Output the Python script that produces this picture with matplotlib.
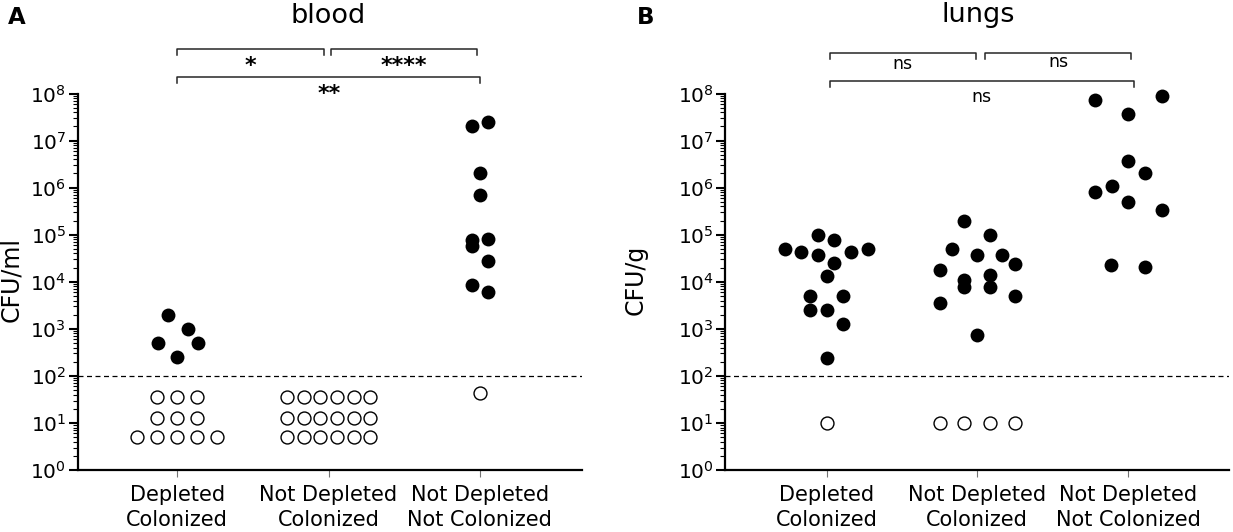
import numpy as np
import matplotlib.pyplot as plt
from matplotlib.ticker import LogLocator, NullFormatter

plt.rcParams['font.family'] = ['DejaVu Sans']

categories = ['Depleted\nColonized', 'Not Depleted\nColonized', 'Not Depleted\nNot Colonized']
limit = 100

# blood, CFU/ml : detected (filled) and under the limit (open)
blood_pos = [
    [2000, 1000, 500, 500, 250],
    [],
    [2.0e7, 2.5e7, 2.0e6, 6.9e5, 7.8e4, 5.8e4, 8.1e4, 2.8e4, 8.5e3, 6.0e3],
]
blood_pos_dx = [
    [-0.063, 0.071, -0.129, 0.135, 0.0],
    [],
    [-0.053, 0.056, 0.0, 0.0, -0.053, -0.053, 0.056, 0.056, -0.053, 0.056],
]
blood_neg = [
    [35, 35, 35, 13, 13, 13, 5, 5, 5, 5, 5],
    [35, 35, 35, 35, 35, 35, 13, 13, 13, 13, 13, 13, 5, 5, 5, 5, 5, 5],
    [44],
]
blood_neg_dx = [
    [-0.132, 0.0, 0.132, -0.132, 0.0, 0.132, -0.264, -0.132, 0.0, 0.132, 0.264],
    [-0.274, -0.165, -0.054, 0.056, 0.165, 0.274,
     -0.274, -0.165, -0.054, 0.056, 0.165, 0.274,
     -0.274, -0.165, -0.054, 0.056, 0.165, 0.274],
    [0.0],
]
blood_pairs = [(1, 2), (2, 3), (1, 3)]
blood_sig = ['*', '****', '**']

# lungs, CFU/g
lungs_pos = [
    [5.0e4, 4.3e4, 1.0e5, 3.7e4, 7.7e4, 2.5e4, 4.3e4, 4.9e4, 1.3e4, 5.0e3, 5.0e3, 2.5e3, 2.5e3, 1.25e3, 245],
    [2.0e5, 1.0e5, 5.0e4, 3.7e4, 3.7e4, 2.4e4, 1.8e4, 1.4e4, 1.07e4, 7.6e3, 7.6e3, 5.0e3, 3.6e3, 740],
    [7.2e7, 8.7e7, 3.7e7, 3.6e6, 2.0e6, 1.07e6, 7.9e5, 4.9e5, 3.3e5, 2.3e4, 2.1e4],
]
lungs_pos_dx = [
    [-0.274, -0.168, -0.054, -0.054, 0.052, 0.052, 0.165, 0.274, 0.0, -0.111, 0.108, -0.111, 0.0, 0.108, 0.0],
    [-0.085, 0.083, -0.17, 0.0, 0.165, 0.248, -0.25, 0.083, -0.085, -0.085, 0.083, 0.248, -0.25, 0.0],
    [-0.22, 0.225, 0.0, 0.0, 0.115, -0.106, -0.22, 0.0, 0.225, -0.111, 0.111],
]
lungs_neg = [[10], [10, 10, 10, 10], []]
lungs_neg_dx = [[0.0], [-0.25, -0.085, 0.083, 0.248], []]
lungs_pairs = [(1, 2), (2, 3), (1, 3)]
lungs_sig = ['ns', 'ns', 'ns']


def style(ax, xlim):
    ax.set_yscale('log')
    ax.set_ylim(1, 1e8)
    ax.set_xlim(*xlim)
    ax.spines['top'].set_visible(False)
    ax.spines['right'].set_visible(False)
    ax.spines['left'].set_linewidth(1.6)
    ax.spines['bottom'].set_linewidth(1.6)
    ax.set_xticks([1, 2, 3])
    ax.set_xticklabels(categories, fontsize=15, linespacing=1.3)
    ax.set_yticks([10.0 ** k for k in range(9)])
    ax.yaxis.set_minor_locator(LogLocator(base=10, subs=np.arange(2, 10), numticks=100))
    ax.yaxis.set_minor_formatter(NullFormatter())
    ax.tick_params(axis='y', which='major', length=6.5, width=1.5, labelsize=14.5, pad=2)
    ax.tick_params(axis='y', which='minor', length=3.5, width=0.8)
    ax.tick_params(axis='x', length=5, width=0.8, color='0.45', pad=6)
    ax.axhline(limit, color='k', lw=0.9, ls=(0, (4, 2.8)), zorder=1)


def dots(ax, pos, pos_dx, neg, neg_dx):
    for i in range(3):
        x = [i + 1 + d for d in pos_dx[i]]
        ax.plot(x, pos[i], 'o', color='k', ms=10, mew=0, clip_on=False, zorder=3)
        x = [i + 1 + d for d in neg_dx[i]]
        ax.plot(x, neg[i], 'o', mfc='white', mec='k', ms=9.3, mew=1.0, clip_on=False, zorder=3)


def bracket(ax, x0, x1, y, drop, label, ty, size, weight='normal'):
    tr = ax.get_xaxis_transform()
    ax.plot([x0, x0, x1, x1], [y - drop, y, y, y - drop], transform=tr,
            color='0.15', lw=1.1, clip_on=False)
    ax.text((x0 + x1) / 2, ty, label, transform=tr, ha='center', va='baseline',
            fontsize=size, weight=weight, clip_on=False)


fig = plt.figure(figsize=(12.33, 5.32), dpi=100)
axA = fig.add_axes([0.0632, 0.1165, 0.4085, 0.7077])
axB = fig.add_axes([0.5883, 0.1165, 0.4085, 0.7077])

style(axA, (0.343, 3.673))
style(axB, (0.329, 3.67))
dots(axA, blood_pos, blood_pos_dx, blood_neg, blood_neg_dx)
dots(axB, lungs_pos, lungs_pos_dx, lungs_neg, lungs_neg_dx)

# blood brackets
bracket(axA, 1.0, 1.967, 1.118, 0.016, blood_sig[0], 1.058, 16, 'bold')
bracket(axA, 2.014, 2.984, 1.118, 0.016, blood_sig[1], 1.058, 16, 'bold')
bracket(axA, 1.0, 3.002, 1.045, 0.016, blood_sig[2], 0.982, 16, 'bold')

# lungs brackets
bracket(axB, 1.02, 1.99, 1.107, 0.015, lungs_sig[0], 1.066, 12.5)
bracket(axB, 2.05, 3.02, 1.107, 0.015, lungs_sig[1], 1.070, 12.5)
bracket(axB, 1.02, 3.04, 1.034, 0.016, lungs_sig[2], 0.977, 12.5)

fig.text(8 / 1233, 1 - 24 / 532, 'A', weight='bold', fontsize=16.5, va='baseline')
fig.text(637 / 1233, 1 - 24 / 532, 'B', weight='bold', fontsize=16.5, va='baseline')
fig.text(328 / 1233, 1 - 23 / 532, 'blood', ha='center', va='baseline', fontsize=19.5)
fig.text(978 / 1233, 1 - 22 / 532, 'lungs', ha='center', va='baseline', fontsize=19.5)
fig.text(11 / 1233, 1 - 280 / 532, 'CFU/ml', rotation=90, ha='center', va='center', fontsize=17)
fig.text(636 / 1233, 1 - 280 / 532, 'CFU/g', rotation=90, ha='center', va='center', fontsize=17)

fig.savefig('out.png', dpi=100)
